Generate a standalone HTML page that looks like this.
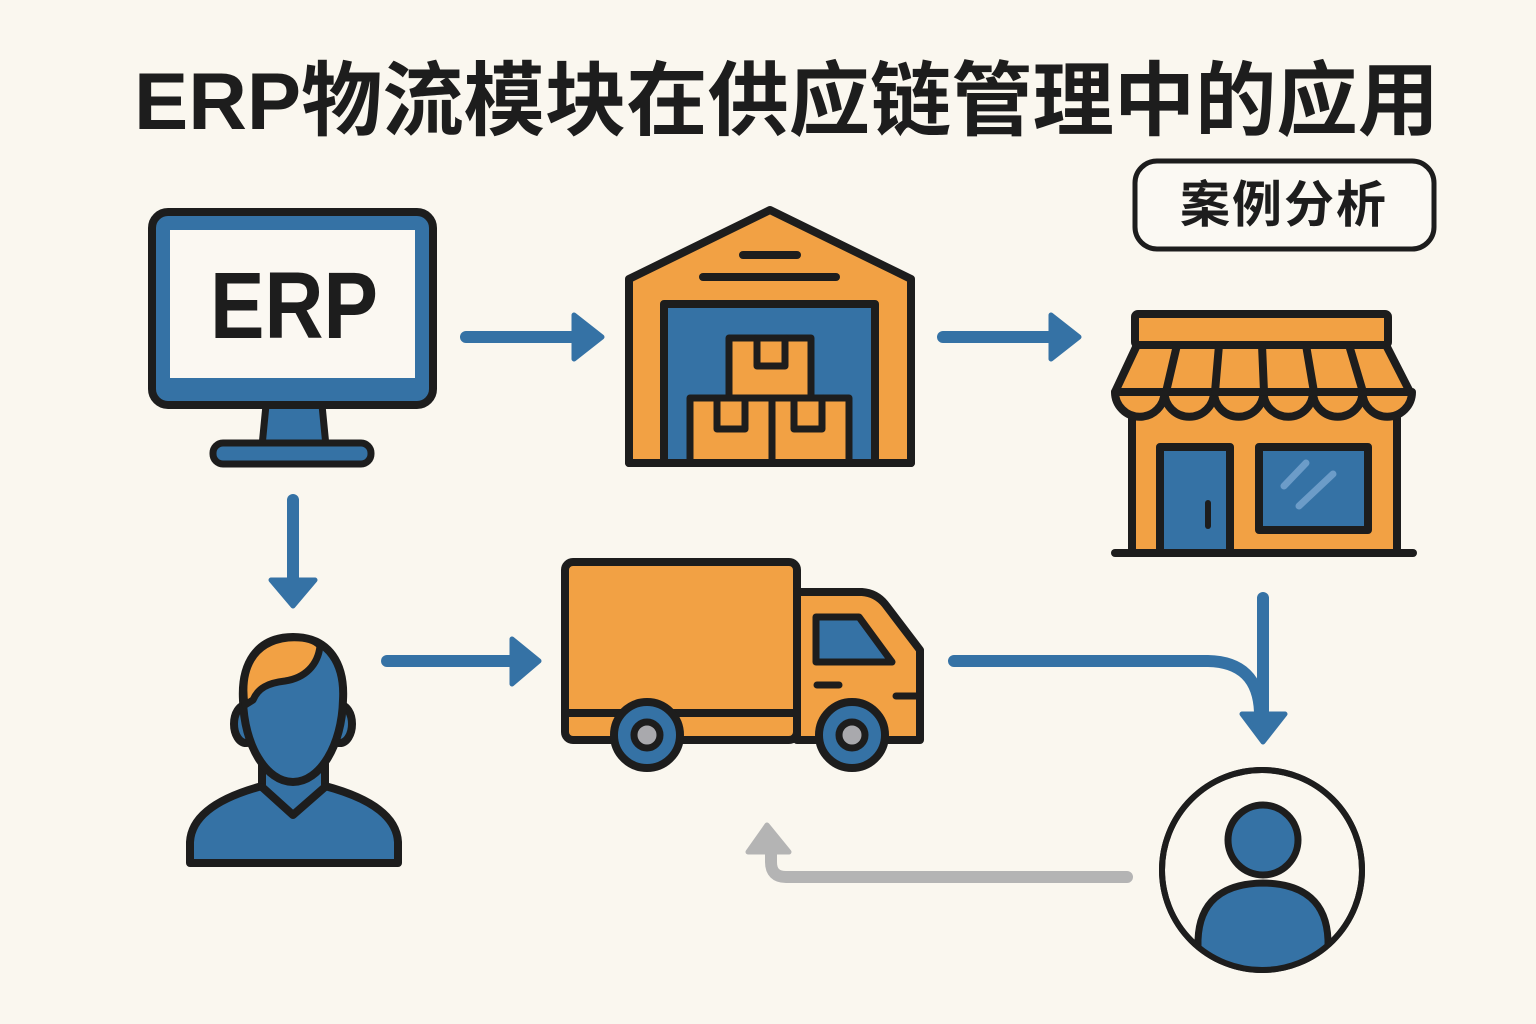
<!DOCTYPE html>
<html><head><meta charset="utf-8"><style>
html,body{margin:0;padding:0;background:#FAF7EF;}
svg{display:block;}
text{font-family:"Liberation Sans","Noto Sans CJK SC",sans-serif;font-weight:700;fill:#1d1d1d;}
</style></head><body>
<svg width="1536" height="1024" viewBox="0 0 1536 1024" xmlns="http://www.w3.org/2000/svg">
<rect width="1536" height="1024" fill="#FAF7EF"/>
<defs><clipPath id="cc"><circle cx="1262" cy="870" r="98"/></clipPath></defs>

<!-- Title -->
<text x="134" y="129" font-size="81" textLength="1305" lengthAdjust="spacingAndGlyphs">ERP物流模块在供应链管理中的应用</text>

<!-- Case box -->
<rect x="1135" y="161" width="299" height="88" rx="22" fill="#FBF9F3" stroke="#1d1d1d" stroke-width="5"/>
<text x="1284" y="222" font-size="50" text-anchor="middle" letter-spacing="2">案例分析</text>

<g stroke="#1d1d1d" stroke-width="8" stroke-linejoin="round" stroke-linecap="round">
<!-- Monitor -->
<polygon points="266,405 322,405 326,446 262,446" fill="#3572A5" stroke-width="7"/>
<rect x="213" y="443" width="158" height="21" rx="10" fill="#3572A5" stroke-width="7"/>
<rect x="152" y="212" width="281" height="193" rx="16" fill="#3572A5"/>
<rect x="170" y="230" width="245" height="148" fill="#FBF8F2" stroke="none"/>

<!-- Warehouse -->
<polygon points="629,279 770,210 911,279 911,463 629,463" fill="#F2A144"/>
<line x1="743" y1="255" x2="797" y2="255"/>
<line x1="703" y1="277" x2="836" y2="277"/>
<rect x="664" y="304" width="211" height="159" fill="#3572A5"/>
<rect x="729" y="338" width="82" height="60" fill="#F2A144" stroke-width="7"/>
<rect x="757" y="338" width="28" height="28" fill="#F2A144" stroke-width="7"/>
<rect x="690" y="398" width="82" height="65" fill="#F2A144" stroke-width="7"/>
<rect x="717" y="398" width="28" height="31" fill="#F2A144" stroke-width="7"/>
<rect x="772" y="398" width="77" height="65" fill="#F2A144" stroke-width="7"/>
<rect x="794" y="398" width="28" height="31" fill="#F2A144" stroke-width="7"/>
<line x1="629" y1="463" x2="911" y2="463"/>

<!-- Store -->
<rect x="1132" y="385" width="265" height="168" fill="#F2A144"/>
<path d="M1115,392 A24.75,24.75 0 0 0 1164.5,392 A24.75,24.75 0 0 0 1214,392 A24.75,24.75 0 0 0 1263.5,392 A24.75,24.75 0 0 0 1313,392 A24.75,24.75 0 0 0 1362.5,392 A24.75,24.75 0 0 0 1412,392 Z" fill="#F2A144"/>
<polygon points="1137,345 1386,345 1410,392 1115,392" fill="#F2A144"/>
<line x1="1177" y1="345" x2="1166" y2="392"/>
<line x1="1219" y1="345" x2="1215" y2="392"/>
<line x1="1262" y1="345" x2="1264" y2="392"/>
<line x1="1306" y1="345" x2="1314" y2="392"/>
<line x1="1349" y1="345" x2="1363" y2="392"/>
<rect x="1135" y="314" width="253" height="31" rx="3" fill="#F2A144"/>
<rect x="1160" y="447" width="70" height="106" fill="#3572A5"/>
<line x1="1208" y1="503" x2="1208" y2="526" stroke-width="6"/>
<rect x="1259" y="447" width="109" height="83" fill="#3572A5"/>
<line x1="1284" y1="486" x2="1306" y2="463" stroke="#6C9CC8" stroke-width="7"/>
<line x1="1299" y1="506" x2="1333" y2="474" stroke="#6C9CC8" stroke-width="7"/>
<line x1="1115" y1="553" x2="1413" y2="553"/>

<!-- Person left -->
<rect x="262" y="750" width="63" height="50" fill="#3572A5" stroke="none"/>
<path d="M190,863 L190,842 Q192,805 262,786 L325,786 Q396,805 398,842 L398,863 Z" fill="#3572A5" stroke="none"/>
<path d="M262,786 Q192,805 190,842 L190,863 L398,863 L398,842 Q396,805 325,786" fill="none"/>
<line x1="262" y1="758" x2="262" y2="787"/>
<line x1="325" y1="758" x2="325" y2="787"/>
<path d="M262,787 L293,815 L325,787" fill="none"/>
<ellipse cx="246" cy="724" rx="12" ry="19" fill="#3572A5"/>
<ellipse cx="340" cy="724" rx="12" ry="19" fill="#3572A5"/>
<path d="M293,637 C330,637 345,665 343,700 C342,745 320,782 293,782 C266,782 244,745 243,700 C241,665 256,637 293,637 Z" fill="#3572A5"/>
<path d="M245,705 C240,670 252,642 288,638 C305,637 315,640 320,646 C318,665 305,678 285,681 C268,683 258,688 253,700 Z" fill="#F2A144" stroke-width="7"/>

<!-- Truck -->
<rect x="565" y="562" width="232" height="178" rx="8" fill="#F2A144"/>
<line x1="565" y1="713" x2="797" y2="713"/>
<path d="M797,592 L862,592 Q876,593 885,604 L920,650 L920,740 L797,740 Z" fill="#F2A144"/>
<path d="M816,617 L859,617 L892,662 L816,662 Z" fill="#3572A5" stroke-width="7"/>
<line x1="817" y1="685" x2="839" y2="685" stroke-width="7"/>
<line x1="896" y1="696" x2="920" y2="696" stroke-width="7"/>
<circle cx="647" cy="735" r="33" fill="#3572A5"/>
<circle cx="647" cy="735" r="13" fill="#A9A9AD" stroke-width="7"/>
<circle cx="852" cy="735" r="33" fill="#3572A5"/>
<circle cx="852" cy="735" r="13" fill="#A9A9AD" stroke-width="7"/>

<!-- Customer -->
<circle cx="1262" cy="870" r="100" fill="#FAF7EF" stroke-width="6"/>
<g clip-path="url(#cc)">
<path d="M1198,972 L1198,940 Q1200,884 1263,883 Q1326,884 1328,940 L1328,972 Z" fill="#3572A5" stroke-width="7"/>
</g>
<circle cx="1262" cy="870" r="100" fill="none" stroke-width="6"/>
<circle cx="1263" cy="840" r="35" fill="#3572A5" stroke-width="7"/>
</g>

<!-- ERP label on screen -->
<text x="210" y="338" font-size="95" textLength="168" lengthAdjust="spacingAndGlyphs">ERP</text>

<!-- Arrows -->
<g fill="#3572A5" stroke="#3572A5" stroke-linecap="round" stroke-linejoin="round">
<line x1="466" y1="337" x2="575" y2="337" stroke-width="12"/>
<polygon points="574,315 602,337 574,359" stroke-width="5"/>
<line x1="943" y1="337" x2="1052" y2="337" stroke-width="12"/>
<polygon points="1051,315 1079,337 1051,359" stroke-width="5"/>
<line x1="293" y1="500" x2="293" y2="580" stroke-width="12"/>
<polygon points="271,580 315,580 293,606" stroke-width="5"/>
<line x1="387" y1="661" x2="512" y2="661" stroke-width="12"/>
<polygon points="512,639 539,661 512,684" stroke-width="5"/>
<path d="M954,661 L1208,661 Q1258,662 1260,712" fill="none" stroke-width="12"/>
<line x1="1263" y1="598" x2="1263" y2="715" stroke-width="12"/>
<polygon points="1242,714 1285,714 1263,742" stroke-width="5"/>
</g>
<g fill="#B4B4B4" stroke="#B4B4B4" stroke-linecap="round" stroke-linejoin="round">
<path d="M1127,877 L786,877 Q771,877 771,862 L771,845" fill="none" stroke-width="12"/>
<polygon points="748,852 767,825 789,852" stroke-width="5"/>
</g>
</svg>
</body></html>
